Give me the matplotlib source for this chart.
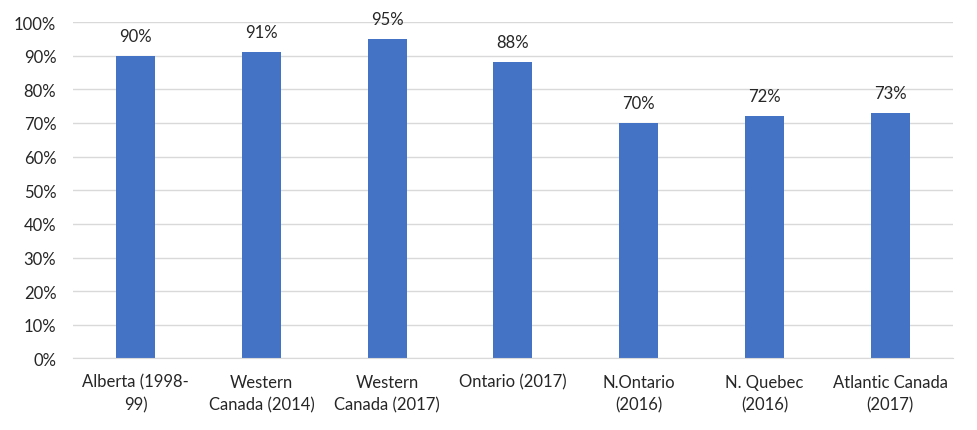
import matplotlib.pyplot as plt
from matplotlib.ticker import PercentFormatter

CATEGORIES = [
    "Alberta (1998-\n99)",
    "Western\nCanada (2014)",
    "Western\nCanada (2017)",
    "Ontario (2017)",
    "N.Ontario\n(2016)",
    "N. Quebec\n(2016)",
    "Atlantic Canada\n(2017)",
]
VALUES = [90, 91, 95, 88, 70, 72, 73]
Y_TICKS = list(range(0, 101, 10))

BAR_COLOR = "#4472C4"
TEXT_COLOR = "#262626"
GRID_COLOR = "#D9D9D9"

plt.rcParams["font.family"] = ["Lato", "DejaVu Sans"]

fig = plt.figure(figsize=(9.77, 4.31), dpi=100)
ax = fig.add_axes([0.0747, 0.166, 0.9007, 0.7806])

xs = range(len(CATEGORIES))
ax.bar(xs, VALUES, width=0.31, color=BAR_COLOR, zorder=3)
for x, v in zip(xs, VALUES):
    ax.annotate(f"{v}%", (x, v), xytext=(0, 20), textcoords="offset pixels",
                ha="center", va="center", fontsize=12, color=TEXT_COLOR)

ax.set_xlim(-0.5, len(CATEGORIES) - 0.5)
ax.set_ylim(0, 100)
ax.set_yticks(Y_TICKS)
ax.yaxis.set_major_formatter(PercentFormatter(decimals=0))
ax.set_xticks(list(xs))
ax.set_xticklabels(CATEGORIES, linespacing=1.5)
ax.tick_params(axis="y", length=0, pad=12, labelsize=12, labelcolor=TEXT_COLOR)
ax.tick_params(axis="x", length=0, pad=11, labelsize=12, labelcolor=TEXT_COLOR)
ax.grid(axis="y", color=GRID_COLOR, linewidth=1, zorder=0)
for side in ["top", "right", "left"]:
    ax.spines[side].set_visible(False)
ax.spines["bottom"].set_color(GRID_COLOR)
ax.spines["bottom"].set_zorder(4)

fig.savefig("out.png", dpi=100)
